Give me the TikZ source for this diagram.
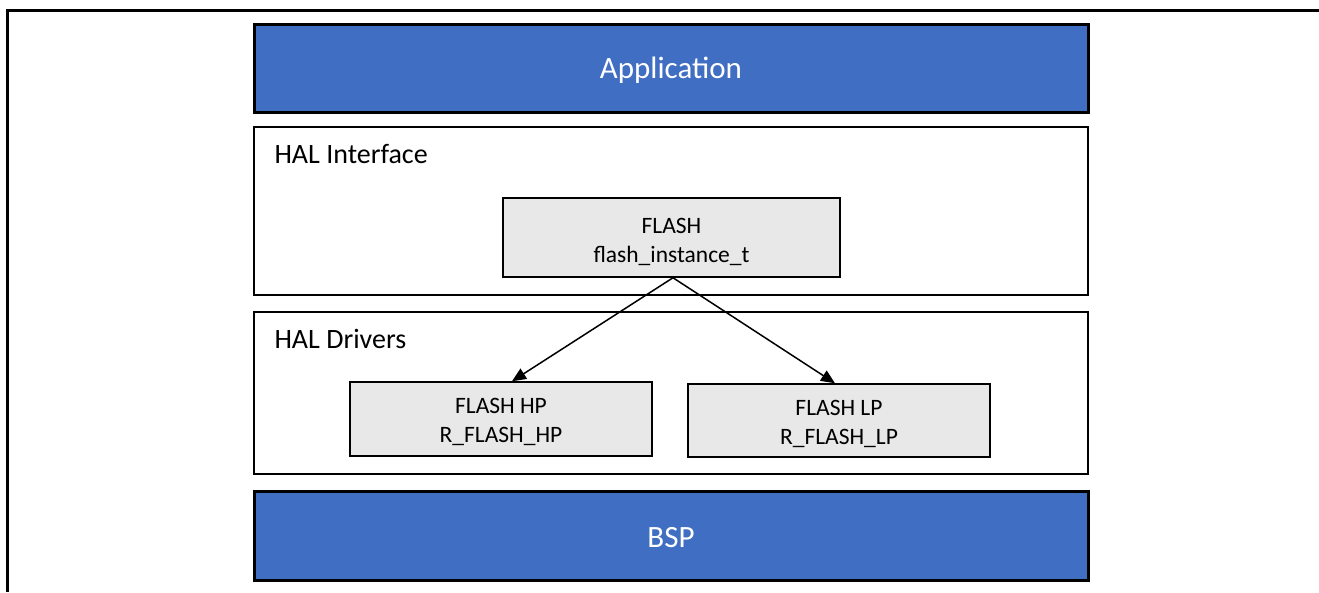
\documentclass[tikz,border=0pt]{standalone}
\usepackage{fontspec}
\setmainfont{Carlito}
\usetikzlibrary{arrows.meta}
\definecolor{layerblue}{RGB}{63,110,195}
\definecolor{modgray}{RGB}{232,232,232}
% lower the ink of a line, keep its box
\newcommand{\dropline}[2][4pt]{\raisebox{-#1}[\height][\depth]{#2}}
\tikzset{
  layer/.style={draw=black,line width=3pt,fill=layerblue,text=white,minimum width=834pt,font=\fontsize{31}{37}\selectfont},
  group/.style={draw=black,line width=2pt,fill=white,minimum width=834pt},
  module/.style={draw=black,line width=1.5pt,fill=modgray,align=center,font=\fontsize{23.5}{29}\selectfont},
  grouplabel/.style={anchor=base west,font=\fontsize{28}{34}\selectfont}
}
\begin{document}
\begin{tikzpicture}
  [x=1pt,y=-1pt]
  \useasboundingbox (0,0) rectangle (1319,592);
  \draw[line width=3pt] (7,592) -- (7,10) -- (1319,10);

  \node[layer,minimum height=88pt] (app) at (671,68) {\dropline[2pt]{Application}};
  \node[group,minimum height=168pt] (halif) at (671,211) {};
  \node[group,minimum height=162pt] (haldrv) at (671,393) {};
  \node[layer,minimum height=89pt] (bsp) at (671,535.5) {\dropline[2pt]{BSP}};

  \node[grouplabel] (iflabel) at (271,163) {HAL Interface};
  \node[grouplabel] (drvlabel) at (271,348) {HAL Drivers};

  \node[module,minimum width=337pt,minimum height=79pt] (flash) at (671.5,237.5) {\dropline{FLASH}\\\dropline{flash\_instance\_t}};
  \node[module,minimum width=302pt,minimum height=74pt] (hp) at (501,419) {\dropline[3pt]{FLASH HP}\\\dropline[3pt]{R\_FLASH\_HP}};
  \node[module,minimum width=302pt,minimum height=73pt] (lp) at (839,420.5) {\dropline[3pt]{FLASH LP}\\\dropline[3pt]{R\_FLASH\_LP}};

  \draw[line width=1.5pt,-{Triangle[length=14pt,width=12pt]}] ([xshift=1.5pt]flash.south) -- ([xshift=11pt]hp.north);
  \draw[line width=1.5pt,-{Triangle[length=14pt,width=12pt]}] ([xshift=1.5pt]flash.south) -- ([xshift=-4pt]lp.north);
\end{tikzpicture}
\end{document}
